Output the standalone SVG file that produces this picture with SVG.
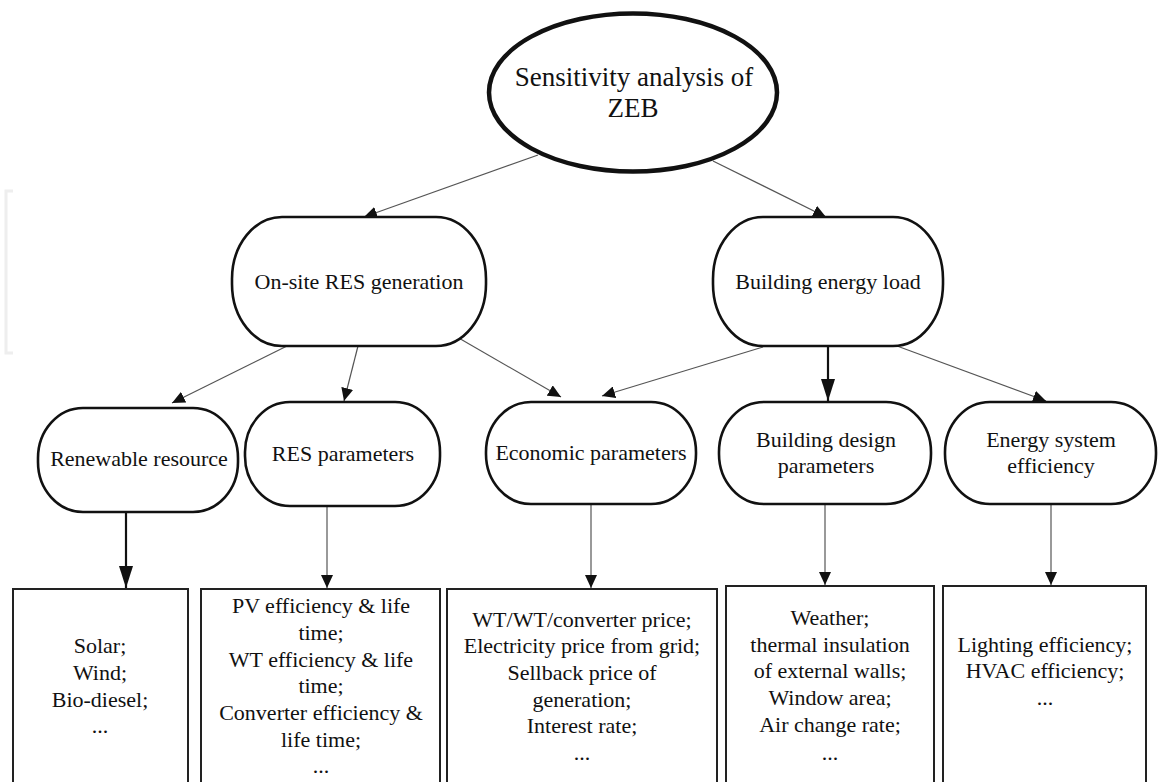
<svg xmlns="http://www.w3.org/2000/svg" width="1159" height="782" viewBox="0 0 1159 782">
<style>
text{font-family:"Liberation Serif","Times New Roman",serif;fill:#111;text-anchor:middle}
.t{font-size:27px}
.n{font-size:22px}
.node{fill:#fff;stroke:#111;stroke-width:2.6}
.box{fill:#fff;stroke:#222;stroke-width:2}
.thin{stroke:#555;stroke-width:1.2;fill:none;marker-end:url(#ah)}
.thick{stroke:#111;stroke-width:2.2;fill:none;marker-end:url(#ahb)}
</style>
<defs>
<marker id="ah" markerUnits="userSpaceOnUse" markerWidth="14" markerHeight="12" refX="13" refY="6" orient="auto">
<path d="M0,0 L13,6 L0,12 z" fill="#111"/>
</marker>
<marker id="ahb" markerUnits="userSpaceOnUse" markerWidth="23" markerHeight="14" refX="22" refY="7" orient="auto">
<path d="M0,0 L22,7 L0,14 z" fill="#111"/>
</marker>
</defs>
<rect width="1159" height="782" fill="#fff"/>
<path d="M13,191 H6 V353 H13" fill="none" stroke="#eee" stroke-width="3"/>
<g id="connectors">
<line class="thin" x1="538" y1="155" x2="364" y2="217"/>
<line class="thin" x1="713" y1="161" x2="826" y2="217"/>
<line class="thin" x1="287" y1="346" x2="172" y2="403"/>
<line class="thin" x1="358" y1="346" x2="344" y2="401"/>
<line class="thin" x1="457" y1="337" x2="561" y2="397"/>
<line class="thin" x1="763" y1="347" x2="602" y2="396"/>
<line class="thick" x1="828" y1="347" x2="828" y2="401"/>
<line class="thin" x1="897" y1="346" x2="1046" y2="401"/>
<line class="thick" x1="126" y1="512" x2="126" y2="588"/>
<line class="thin" x1="327" y1="506" x2="327" y2="588"/>
<line class="thin" x1="591" y1="504" x2="591" y2="588"/>
<line class="thin" x1="825" y1="504" x2="825" y2="585"/>
<line class="thin" x1="1051" y1="504" x2="1051" y2="585"/>
</g>
<g id="root">
<ellipse cx="633" cy="92.5" rx="144" ry="79" fill="#fff" stroke="#111" stroke-width="4.5"/>
<text class="t" x="634" y="86">Sensitivity analysis of</text>
<text class="t" x="633" y="117">ZEB</text>
</g>
<g id="onsite">
<rect class="node" x="232" y="217" width="254" height="129" rx="50" ry="62"/>
<text class="n" x="359" y="289">On-site RES generation</text>
</g>
<g id="building">
<rect class="node" x="713" y="217" width="230" height="129" rx="50" ry="62"/>
<text class="n" x="828" y="289">Building energy load</text>
</g>
<g id="renewable">
<rect class="node" x="38" y="408" width="200" height="104" rx="45" ry="50"/>
<text class="n" x="139" y="466">Renewable resource</text>
</g>
<g id="resparams">
<rect class="node" x="245" y="402" width="195" height="104" rx="45" ry="50"/>
<text class="n" x="343" y="461">RES parameters</text>
</g>
<g id="economic">
<rect class="node" x="486" y="402" width="210" height="102" rx="45" ry="50"/>
<text class="n" x="591" y="460">Economic parameters</text>
</g>
<g id="design">
<rect class="node" x="719" y="402" width="212" height="102" rx="45" ry="50"/>
<text class="n" x="826" y="447">Building design</text>
<text class="n" x="826" y="473">parameters</text>
</g>
<g id="energysys">
<rect class="node" x="945" y="402" width="211" height="102" rx="45" ry="50"/>
<text class="n" x="1051" y="447">Energy system</text>
<text class="n" x="1051" y="473">efficiency</text>
</g>
<g id="box1">
<rect class="box" x="13" y="589" width="175" height="220"/>
<text class="n" x="100" y="653">Solar;</text>
<text class="n" x="100" y="680">Wind;</text>
<text class="n" x="100" y="707">Bio-diesel;</text>
<text class="n" x="100" y="733">...</text>
</g>
<g id="box2">
<rect class="box" x="201" y="589" width="239" height="220"/>
<text class="n" x="321" y="613">PV efficiency &amp; life</text>
<text class="n" x="321" y="640">time;</text>
<text class="n" x="321" y="667">WT efficiency &amp; life</text>
<text class="n" x="321" y="693">time;</text>
<text class="n" x="321" y="720">Converter efficiency &amp;</text>
<text class="n" x="321" y="747">life time;</text>
<text class="n" x="321" y="773">...</text>
</g>
<g id="box3">
<rect class="box" x="447" y="589" width="270" height="220"/>
<text class="n" x="582" y="627">WT/WT/converter price;</text>
<text class="n" x="582" y="653">Electricity price from grid;</text>
<text class="n" x="582" y="680">Sellback price of</text>
<text class="n" x="582" y="707">generation;</text>
<text class="n" x="582" y="733">Interest rate;</text>
<text class="n" x="582" y="760">...</text>
</g>
<g id="box4">
<rect class="box" x="726" y="586" width="208" height="220"/>
<text class="n" x="830" y="625">Weather;</text>
<text class="n" x="830" y="652">thermal insulation</text>
<text class="n" x="830" y="678">of external walls;</text>
<text class="n" x="830" y="705">Window area;</text>
<text class="n" x="830" y="732">Air change rate;</text>
<text class="n" x="830" y="760">...</text>
</g>
<g id="box5">
<rect class="box" x="943" y="586" width="203" height="220"/>
<text class="n" x="1045" y="652">Lighting efficiency;</text>
<text class="n" x="1045" y="678">HVAC efficiency;</text>
<text class="n" x="1045" y="705">...</text>
</g>
</svg>
